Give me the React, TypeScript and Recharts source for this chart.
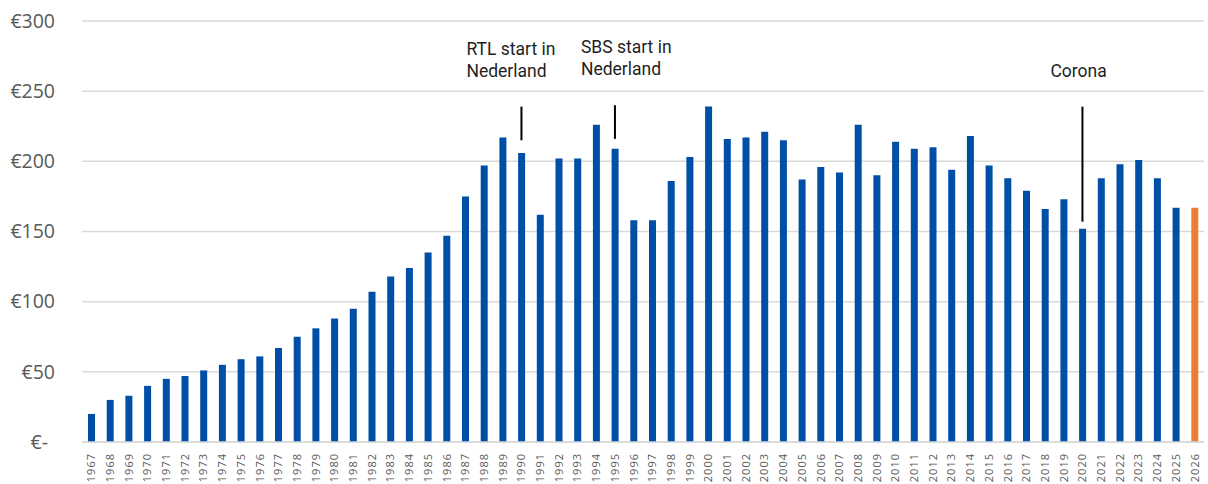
import {
  Bar,
  BarChart,
  CartesianGrid,
  Cell,
  ReferenceLine,
  XAxis,
  YAxis,
} from "recharts";

const YEARS = [
  "1967", "1968", "1969", "1970", "1971", "1972", "1973", "1974", "1975", "1976",
  "1977", "1978", "1979", "1980", "1981", "1982", "1983", "1984", "1985", "1986",
  "1987", "1988", "1989", "1990", "1991", "1992", "1993", "1994", "1995", "1996",
  "1997", "1998", "1999", "2000", "2001", "2002", "2003", "2004", "2005", "2006",
  "2007", "2008", "2009", "2010", "2011", "2012", "2013", "2014", "2015", "2016",
  "2017", "2018", "2019", "2020", "2021", "2022", "2023", "2024", "2025", "2026",
];

const VALUES = [
  20, 30, 33, 40, 45, 47, 51, 55, 59, 61,
  67, 75, 81, 88, 95, 107, 118, 124, 135, 147,
  175, 197, 217, 206, 162, 202, 202, 226, 209, 158,
  158, 186, 203, 239, 216, 217, 221, 215, 187, 196,
  192, 226, 190, 214, 209, 210, 194, 218, 197, 188,
  179, 166, 173, 152, 188, 198, 201, 188, 167, 167,
];

const Y_TICKS = [0, 50, 100, 150, 200, 250, 300];

const FORECAST_YEAR = "2026";

// annotation lines + text
const NOTE_YEARS = ["1990", "1995", "2020"];
const NOTE_FROM = [215, 216, 157];
const NOTE_TO = [239, 240, 239];
const NOTE_TEXT = [
  ["RTL start in", "Nederland"],
  ["SBS start in", "Nederland"],
  ["Corona"],
];
const NOTE_DX = [-55, -34, -32];

const BLUE = "#004FA7";
const ORANGE = "#ED7D31";
const GRID = "#D9D9D9";
const TICK = "#595959";

const data = YEARS.map((year, i) => ({ year, value: VALUES[i] }));

const YTick = ({ x, y, payload }: any) => {
  const v = payload.value;
  return (
    <text
      x={v === 0 ? x - 7 : x}
      y={y}
      dy="0.35em"
      textAnchor="end"
      fill={TICK}
      fontSize={19.5}
      fontFamily="'Open Sans', sans-serif"
    >
      {v === 0 ? "€-" : `€${v}`}
    </text>
  );
};

const XTick = ({ x, y, payload }: any) => (
  <g transform={`translate(${x},${y})`}>
    <text
      transform="rotate(-90)"
      textAnchor="end"
      dy="0.35em"
      fill={TICK}
      fontSize={11}
      letterSpacing={1}
      fontFamily="'Open Sans', sans-serif"
    >
      {payload.value}
    </text>
  </g>
);

const noteLabel = (lines: string[], dx: number) => (props: any) => {
  const vb = props.viewBox || {};
  const top = vb.y ?? 0;
  const n = lines.length;
  return (
    <text
      x={(vb.x ?? 0) + dx}
      fill="#1F1F1F"
      fontSize={17.5}
      fontFamily="Roboto, sans-serif"
    >
      {lines.map((line, i) => (
        <tspan key={i} x={(vb.x ?? 0) + dx} y={top - 30 - (n - 1 - i) * 22}>
          {line}
        </tspan>
      ))}
    </text>
  );
};

export default function App() {
  return (
    <div style={{ width: 1208, height: 484, background: "#fff" }}>
      <style>{`body{margin:0}`}</style>
      <BarChart
        width={1208}
        height={484}
        data={data}
        margin={{ top: 21, right: 4, left: 0, bottom: 0 }}
      >
        <CartesianGrid vertical={false} stroke={GRID} strokeWidth={1.5} />
        <XAxis
          dataKey="year"
          interval={0}
          height={42}
          tickLine={false}
          tickSize={0}
          tickMargin={11}
          axisLine={{ stroke: GRID, strokeWidth: 1.5 }}
          tick={<XTick />}
        />
        <YAxis
          width={82}
          domain={[0, 300]}
          ticks={Y_TICKS}
          axisLine={false}
          tickLine={false}
          tickSize={0}
          tickMargin={27}
          tick={<YTick />}
        />
        <Bar dataKey="value" barSize={7} isAnimationActive={false}>
          {data.map((d) => (
            <Cell key={d.year} fill={d.year === FORECAST_YEAR ? ORANGE : BLUE} />
          ))}
        </Bar>
        {NOTE_YEARS.map((year, i) => (
          <ReferenceLine
            key={year}
            segment={[
              { x: year, y: NOTE_FROM[i] },
              { x: year, y: NOTE_TO[i] },
            ]}
            stroke="#000"
            strokeWidth={2}
            label={noteLabel(NOTE_TEXT[i], NOTE_DX[i])}
          />
        ))}
      </BarChart>
    </div>
  );
}
